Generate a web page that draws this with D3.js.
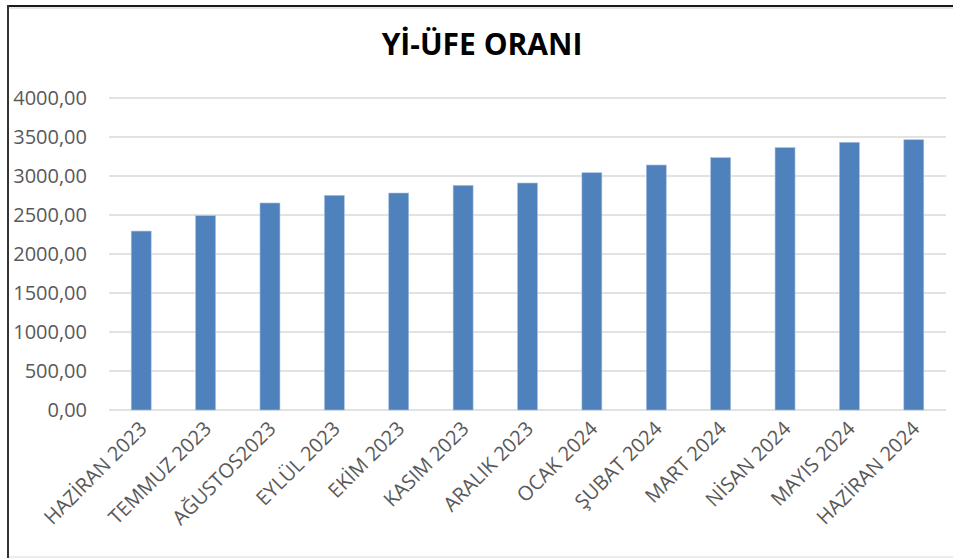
<!DOCTYPE html>
<html>
<head>
<meta charset="utf-8">
<script src="https://cdn.jsdelivr.net/npm/d3@7"></script>
<style>
  body { margin: 0; background: #fff; }
  svg { display: block; font-family: "Open Sans", sans-serif; }
</style>
</head>
<body>
<svg width="953" height="559"></svg>
<script>
// months and YI-UFE values
const months = ['HAZİRAN 2023', 'TEMMUZ 2023', 'AĞUSTOS2023', 'EYLÜL 2023', 'EKİM 2023', 'KASIM 2023',
    'ARALIK 2023', 'OCAK 2024', 'ŞUBAT 2024', 'MART 2024', 'NİSAN 2024', 'MAYIS 2024', 'HAZİRAN 2024'];
const values = [2294, 2491, 2654, 2752, 2782, 2880, 2910, 3042, 3141, 3235, 3364, 3432, 3465];
const yTicks = [0, 500, 1000, 1500, 2000, 2500, 3000, 3500, 4000];
const title = 'Yİ-ÜFE ORANI';

const svg = d3.select('svg');
const plotLeft = 109, plotRight = 946, plotTop = 98, plotBottom = 410;

// frame of the chart area
svg.append('line').attr('x1', 8).attr('x2', 953).attr('y1', 8).attr('y2', 8)
    .attr('stroke', '#e6e6e6').attr('stroke-width', 2);
svg.append('line').attr('x1', 8).attr('x2', 953).attr('y1', 6).attr('y2', 6)
    .attr('stroke', '#1a1a1a').attr('stroke-width', 2);
svg.append('line').attr('x1', 8).attr('x2', 8).attr('y1', 5).attr('y2', 558)
    .attr('stroke', '#333').attr('stroke-width', 2);
svg.append('line').attr('x1', 9).attr('x2', 953).attr('y1', 557).attr('y2', 557)
    .attr('stroke', '#ececec').attr('stroke-width', 2);

let x = d3.scaleBand().domain(months).range([plotLeft, plotRight]).paddingInner(0.69).paddingOuter(0.345);
let y = d3.scaleLinear().domain([0, 4000]).range([plotBottom, plotTop]);

// grid
svg.append('g').selectAll('line').data(yTicks).join('line')
    .attr('x1', plotLeft).attr('x2', plotRight)
    .attr('y1', d => y(d)).attr('y2', d => y(d))
    .attr('stroke', '#d9d9d9').attr('stroke-width', 1.5);

// y labels
svg.append('g').selectAll('text').data(yTicks).join('text')
    .attr('x', 87).attr('y', d => y(d)).attr('dy', '0.35em')
    .attr('text-anchor', 'end')
    .attr('font-size', 20).attr('fill', '#595959')
    .text(d => d3.format('.2f')(d).replace('.', ','));

// bars
svg.append('g').selectAll('rect').data(values).join('rect')
    .attr('x', (d, i) => x(months[i]))
    .attr('width', x.bandwidth())
    .attr('y', d => y(d))
    .attr('height', d => y(0) - y(d))
    .attr('fill', '#4f81bd')
    .attr('stroke', '#a9c1e0').attr('stroke-width', 0.6);

// x labels, rotated
svg.append('g').selectAll('text').data(months).join('text')
    .attr('transform', d => `translate(${x(d) + x.bandwidth() / 2 + 7},${plotBottom + 20}) rotate(-45)`)
    .attr('text-anchor', 'end')
    .attr('font-size', 20).attr('fill', '#595959')
    .text(d => d);

svg.append('text')
    .attr('x', 482).attr('y', 55)
    .attr('text-anchor', 'middle')
    .attr('font-size', 30).attr('font-weight', 'bold').attr('fill', '#000')
    .text(title);
</script>
</body>
</html>
